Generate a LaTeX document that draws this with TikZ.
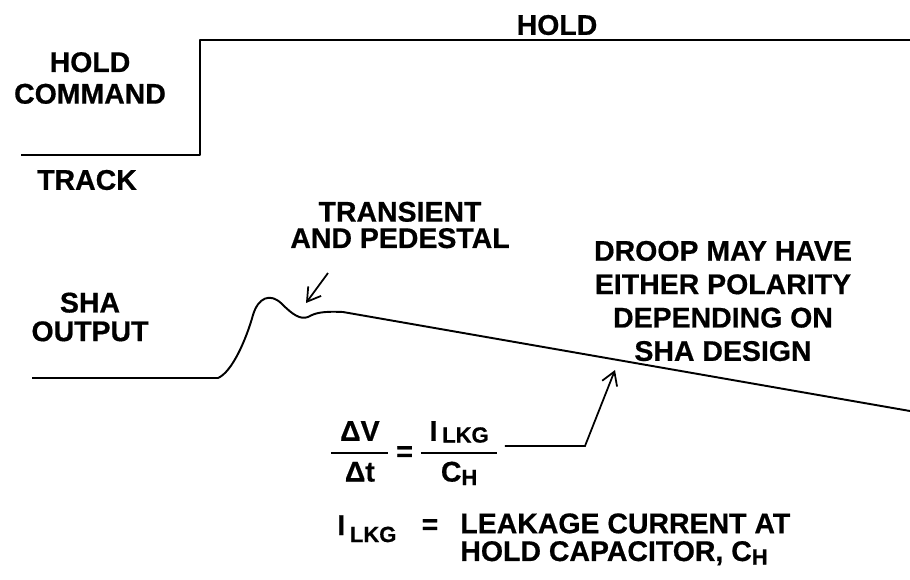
\documentclass[tikz,border=0pt]{standalone}
\usepackage{fontspec}
\setmainfont{Liberation Sans}[BoldFeatures={FakeBold=0.6}]
\usetikzlibrary{arrows.meta}
\newcommand{\lowsub}[2][3pt]{\raisebox{-#1}{\fontsize{12.5}{12.5}\selectfont #2}}
\newcommand{\fracbox}[2]{{\setlength{\arrayrulewidth}{1.1pt}\renewcommand{\arraystretch}{1.3}%
    \begin{tabular}[c]{@{\hspace{5pt}}c@{\hspace{5pt}}}#1\\\hline #2\end{tabular}}}

\begin{document}
\begin{tikzpicture}[x=0.02cm, y=-0.02cm,
    lbl/.style={font=\fontsize{16.2}{17}\selectfont\bfseries, align=center, inner sep=0pt},
    wave/.style={line width=1.1pt, line join=round},
    arrow/.style={-{Straight Barb[length=2.6mm, width=3.2mm]}, line width=1pt}
]
\useasboundingbox (0,0) rectangle (910,579);

% Hold command (track low, hold high)
\draw[wave] (21,155) -- (200,155) -- (200,40) -- (910,40);
\node[lbl] (hold) at (557,25) {HOLD};
\node[lbl] (holdcmd) at (90,78) {HOLD\\[1pt]COMMAND};
\node[lbl] (track) at (87,180) {TRACK};

% SHA output with transient, then droop
\draw[wave] (32,378) -- (218,378)
    .. controls (232,372) and (246,340) .. (253,315)
    .. controls (258,298) and (270,292) .. (282,304)
    .. controls (292,314) and (300,320) .. (308,317)
    .. controls (315,313) and (322,311) .. (343,312)
    -- (910,411);
\node[lbl] (shaout) at (90,317) {SHA\\[-0.7pt]OUTPUT};

% Transient label and arrow
\node[lbl] (transient) at (400,225) {TRANSIENT\\[-2pt]AND PEDESTAL};
\coordinate (pedTail) at (328,273);
\coordinate (pedTip) at (306,303);
\draw[arrow] (pedTail) -- (pedTip);

% Droop note
\node[lbl] (droop) at (723,301) {DROOP MAY HAVE\\[2pt]EITHER POLARITY\\[2pt]DEPENDING ON\\[2pt]SHA DESIGN};

% Droop rate formula, pointing at the droop
\node[lbl, anchor=base west, inner xsep=4pt] (formula) at (324,461)
    {\fracbox{ΔV}{Δt} = \fracbox{I\,\lowsub[1pt]{LKG}}{C\lowsub[2pt]{H}}};
\coordinate (bend) at (585,446);
\coordinate (droopPt) at (615,370);
\draw[arrow] (formula.east |- bend) -- (bend) -- (droopPt);

% Leakage definition
\node[lbl, anchor=base west] (ilkg) at (337,535) {I\,\lowsub[4pt]{LKG}};
\node[lbl, anchor=base] (eqsign) at (430,534) {=};
\node[lbl, align=left, anchor=north west] (leakage) at (460,513) {LEAKAGE CURRENT AT\\[-1.2pt]HOLD CAPACITOR, C\lowsub[2pt]{H}};

\end{tikzpicture}
\end{document}
